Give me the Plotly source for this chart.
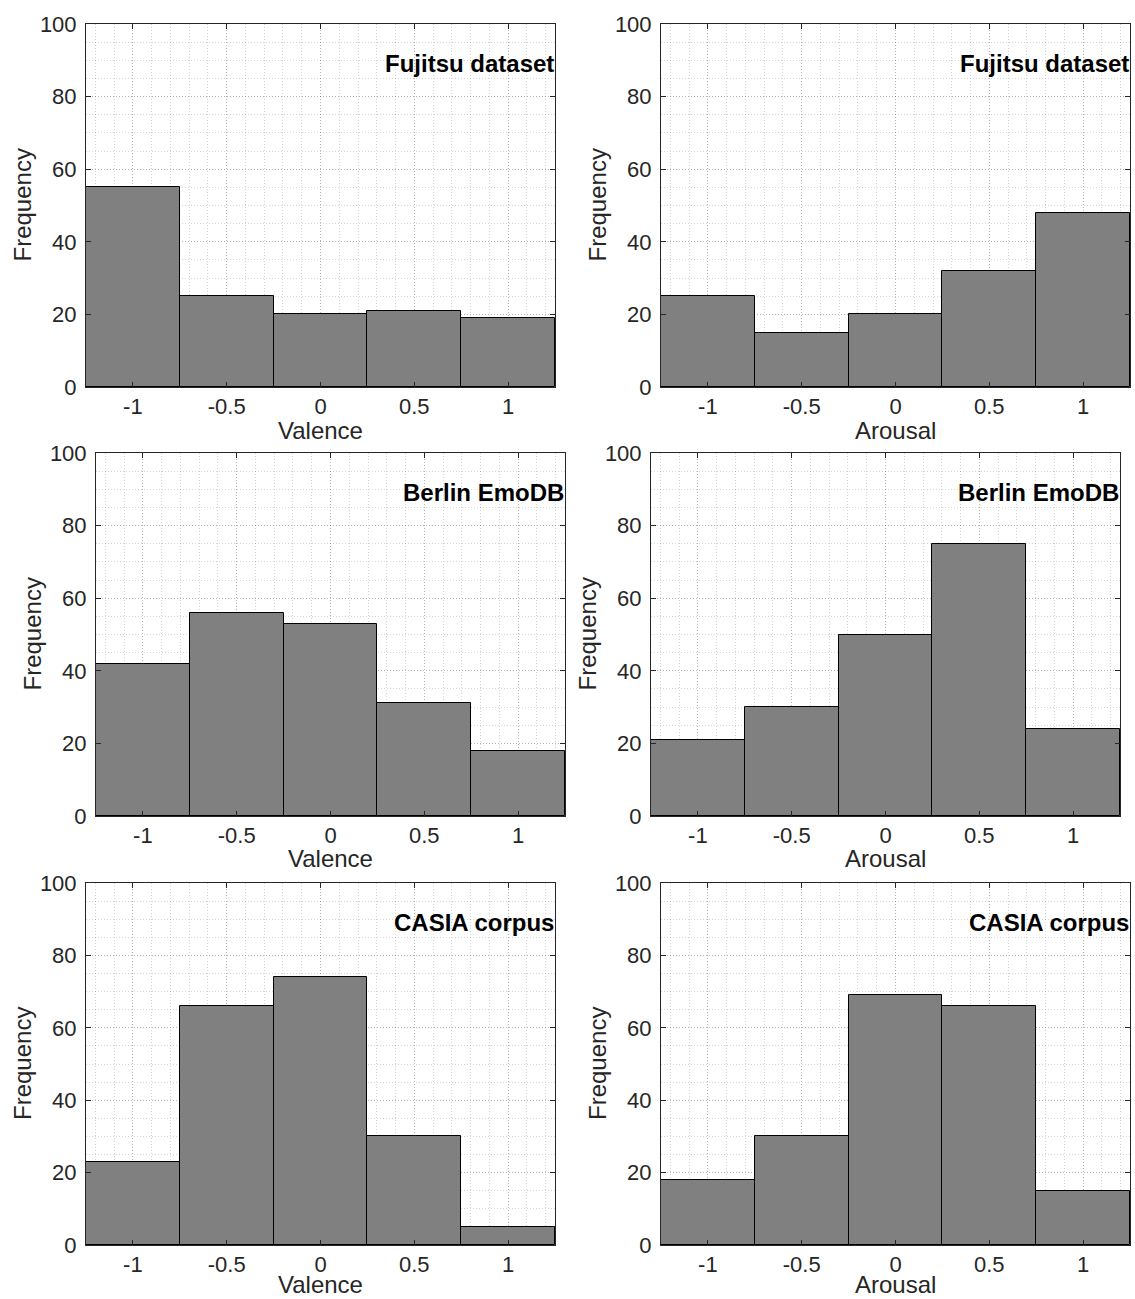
import plotly.graph_objects as go

W, H = 1135, 1299

# Bin centres shared by all histograms
bins = [-1, -0.5, 0, 0.5, 1]
x_ticks = [-1, -0.5, 0, 0.5, 1]
x_tick_labels = ["-1", "-0.5", "0", "0.5", "1"]
y_ticks = [0, 20, 40, 60, 80, 100]

# Frequencies per dataset and dimension
fujitsu_valence = [55, 25, 20, 21, 19]
fujitsu_arousal = [25, 15, 20, 32, 48]
berlin_valence = [42, 56, 53, 31, 18]
berlin_arousal = [21, 30, 50, 75, 24]
casia_valence = [23, 66, 74, 30, 5]
casia_arousal = [18, 30, 69, 66, 15]

panels = [
    # (values, x label, dataset name, pixel box: left, right, top, bottom, x-title offset)
    (fujitsu_valence, "Valence", "Fujitsu dataset", (86, 555, 24, 387), -43),
    (fujitsu_arousal, "Arousal", "Fujitsu dataset", (661, 1130, 24, 387), -43),
    (berlin_valence, "Valence", "Berlin EmoDB", (96, 565, 453, 816), -42),
    (berlin_arousal, "Arousal", "Berlin EmoDB", (651, 1120, 453, 816), -42),
    (casia_valence, "Valence", "CASIA corpus", (86, 555, 883, 1245), -39),
    (casia_arousal, "Arousal", "CASIA corpus", (661, 1130, 883, 1245), -39),
]

FONT = "Arial, Liberation Sans, Helvetica, sans-serif"
AXIS_COLOR = "#262626"
GRID_COLOR = "rgba(0,0,0,0.16)"
GRID_DASH = "1px,2px"

fig = go.Figure()
layout = {}
annotations = []

for i, (vals, xlabel, name, (l, r, t, b), xt_shift) in enumerate(panels, start=1):
    xa = "xaxis" if i == 1 else f"xaxis{i}"
    ya = "yaxis" if i == 1 else f"yaxis{i}"
    xref = "x" if i == 1 else f"x{i}"
    yref = "y" if i == 1 else f"y{i}"

    fig.add_trace(go.Bar(
        x=bins, y=vals, width=0.5,
        marker=dict(color="#808080", line=dict(color="#000000", width=1)),
        xaxis=xref, yaxis=yref, showlegend=False, hoverinfo="x+y",
    ))

    common = dict(
        showline=True, linecolor=AXIS_COLOR, linewidth=1, mirror="allticks",
        ticks="inside", ticklen=5, tickwidth=1, tickcolor=AXIS_COLOR,
        tickfont=dict(family=FONT, size=22, color=AXIS_COLOR),
        showgrid=True, gridcolor=GRID_COLOR, griddash=GRID_DASH, gridwidth=1,
        zeroline=False, fixedrange=True, automargin=False,
    )
    layout[xa] = dict(
        common,
        domain=[l / W, r / W], anchor=yref,
        range=[-1.25, 1.25], tickmode="array",
        tickvals=x_ticks, ticktext=x_tick_labels,
        minor=dict(dtick=0.1, tick0=-1, showgrid=True, gridcolor=GRID_COLOR,
                   griddash=GRID_DASH, ticks=""),
        ticklabelstandoff=0,
    )
    layout[ya] = dict(
        common,
        domain=[1 - b / H, 1 - t / H], anchor=xref,
        range=[0, 100], tickmode="array", tickvals=y_ticks,
        minor=dict(dtick=5, tick0=0, showgrid=True, gridcolor=GRID_COLOR,
                   griddash=GRID_DASH, ticks=""),
        ticklabelstandoff=4,
    )

    # Axis titles
    annotations.append(dict(
        text=xlabel, xref=f"{xref} domain", yref=f"{yref} domain",
        x=0.5, y=0, yshift=xt_shift, xanchor="center", yanchor="middle",
        showarrow=False, font=dict(family=FONT, size=24, color=AXIS_COLOR),
    ))
    annotations.append(dict(
        text="Frequency", xref=f"{xref} domain", yref=f"{yref} domain",
        x=0, y=0.5, xshift=-64, xanchor="center", yanchor="middle",
        textangle=-90, showarrow=False,
        font=dict(family=FONT, size=24, color=AXIS_COLOR),
    ))
    # Dataset name in the upper right corner
    annotations.append(dict(
        text=f"<b>{name}</b>", xref=f"{xref} domain", yref=yref,
        x=1, y=89, xanchor="right", yanchor="middle", xshift=1,
        showarrow=False, font=dict(family=FONT, size=24, color="#000000"),
    ))

fig.update_layout(
    template="none",
    width=W, height=H,
    margin=dict(l=0, r=0, t=0, b=0, autoexpand=False),
    paper_bgcolor="white", plot_bgcolor="white",
    bargap=0, annotations=annotations,
    **layout,
)

fig.write_html(
    "out.html",
    config={"displayModeBar": False},
    post_script="document.body.style.margin='0';document.body.style.overflow='hidden';",
)
